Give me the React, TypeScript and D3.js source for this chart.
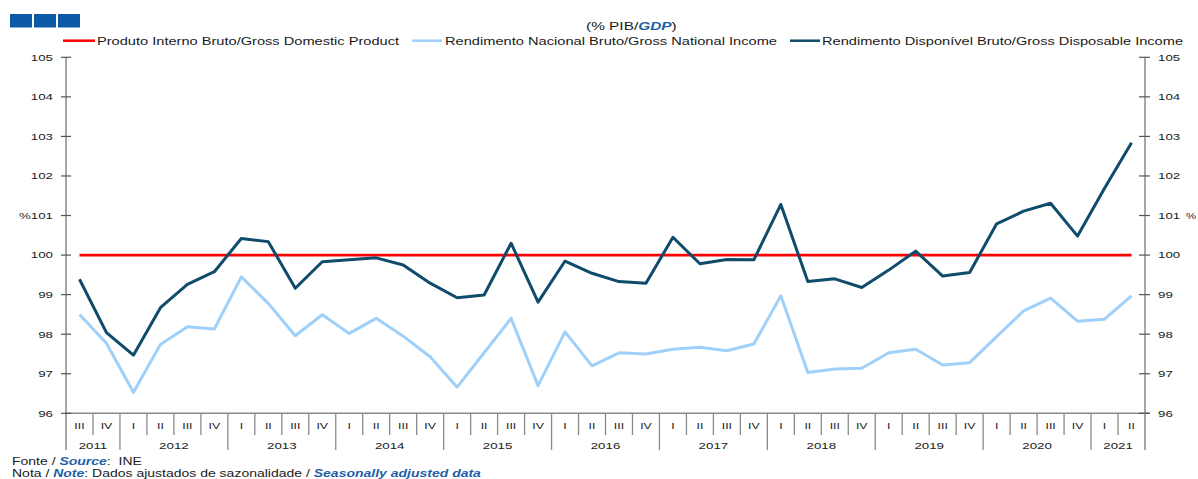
import React from 'react';
import * as d3 from 'd3';

// quarters 2011 Q3 .. 2021 Q2
const quarterLabels = [
  'III', 'IV',
  'I', 'II', 'III', 'IV',
  'I', 'II', 'III', 'IV',
  'I', 'II', 'III', 'IV',
  'I', 'II', 'III', 'IV',
  'I', 'II', 'III', 'IV',
  'I', 'II', 'III', 'IV',
  'I', 'II', 'III', 'IV',
  'I', 'II', 'III', 'IV',
  'I', 'II', 'III', 'IV',
  'I', 'II',
];
const years = ['2011', '2012', '2013', '2014', '2015', '2016', '2017', '2018', '2019', '2020', '2021'];
const quartersInYear = [2, 4, 4, 4, 4, 4, 4, 4, 4, 4, 2];
const yTicks = [96, 97, 98, 99, 100, 101, 102, 103, 104, 105];

const gdp = [
  100, 100, 100, 100, 100, 100, 100, 100, 100, 100,
  100, 100, 100, 100, 100, 100, 100, 100, 100, 100,
  100, 100, 100, 100, 100, 100, 100, 100, 100, 100,
  100, 100, 100, 100, 100, 100, 100, 100, 100, 100,
];
const national = [
  98.5, 97.77, 96.53, 97.74, 98.19, 98.13, 99.45, 98.78, 97.96, 98.49,
  98.02, 98.4, 97.95, 97.43, 96.66, 97.53, 98.4, 96.7, 98.06, 97.2,
  97.53, 97.5, 97.62, 97.67, 97.58, 97.75, 98.97, 97.03, 97.12, 97.14,
  97.53, 97.62, 97.22, 97.28, 97.94, 98.59, 98.91, 98.33, 98.38, 98.97,
];
const disposable = [
  99.39, 98.04, 97.47, 98.67, 99.26, 99.58, 100.42, 100.34, 99.16, 99.83,
  99.88, 99.93, 99.75, 99.29, 98.92, 98.99, 100.3, 98.81, 99.85, 99.54,
  99.33, 99.29, 100.45, 99.78, 99.89, 99.88, 101.28, 99.33, 99.4, 99.18,
  99.62, 100.1, 99.47, 99.56, 100.79, 101.11, 101.31, 100.48, 101.69, 102.84,
];

const seriesNames = [
  'Produto Interno Bruto/Gross Domestic Product',
  'Rendimento Nacional Bruto/Gross National Income',
  'Rendimento Disponível Bruto/Gross Disposable Income',
];

const W = 1198;
const H = 479;
const font = '"Liberation Sans", Arial, sans-serif';
const blue = '#1d5fa8';
const ink = '#1a1a1a';
const colors = ['#ff0000', '#9fd0fa', '#0f4b6b'];

// horizontally stretched text, like the original export
function T({ x, y, size = 9.5, sx = 1.4, anchor = 'start', fill = ink, children }: any) {
  return (
    <g transform={`translate(${x},${y}) scale(${sx},1)`}>
      <text fontSize={size} textAnchor={anchor} fill={fill} fontFamily={font} style={{ whiteSpace: 'pre' }}>
        {children}
      </text>
    </g>
  );
}

export default function App() {
  const left = 66;
  const right = 1145;
  const top = 57.3;
  const bottom = 413.3;

  const idx = d3.range(quarterLabels.length);
  const x = d3.scaleBand<number>().domain(idx).range([left, right]);
  const cx = (i: number) => (x(i) as number) + x.bandwidth() / 2;
  const y = d3.scaleLinear().domain([96, 105]).range([bottom, top]);

  const line = d3.line<number>().x((_, i) => cx(i)).y(d => y(d));

  const yearEnds = Array.from(d3.cumsum(quartersInYear));
  const yearStarts = [0, ...yearEnds.slice(0, -1)];

  const legendPos = [
    { x1: 63, x2: 95, tx: 97, len: 302 },
    { x1: 412, x2: 442, tx: 445, len: 332 },
    { x1: 790, x2: 820, tx: 822, len: 361 },
  ];

  return (
    <svg width={W} height={H} style={{ position: 'absolute', left: 0, top: 0, background: '#fff' }}>
      {/* logo squares */}
      {[0, 1, 2].map(k => (
        <rect key={k} x={10 + k * 24} y={14} width={22} height={13.5} fill="#0b5aa6" />
      ))}

      {/* title */}
      <T x={586} y={29.5} size={11} sx={1.4}>
        (% PIB/<tspan fill={blue} fontWeight="bold" fontStyle="italic">GDP</tspan>)
      </T>

      {/* legend */}
      {seriesNames.map((name, k) => (
        <g key={name}>
          <line x1={legendPos[k].x1} x2={legendPos[k].x2} y1={40.7} y2={40.7} stroke={colors[k]} strokeWidth={2.5} />
          <text x={legendPos[k].tx} y={44.5} fontSize={11.3} fontFamily={font} fill={ink}
            textLength={legendPos[k].len} lengthAdjust="spacingAndGlyphs">{name}</text>
        </g>
      ))}

      {/* axes */}
      <line x1={left} x2={left} y1={top} y2={450} stroke="#8a8a8a" strokeWidth={1.5} />
      <line x1={right} x2={right} y1={top} y2={450} stroke="#8a8a8a" strokeWidth={1.5} />
      <line x1={left} x2={right + 5} y1={bottom} y2={bottom} stroke="#8a8a8a" strokeWidth={1.5} />
      {yTicks.map(t => (
        <g key={t}>
          <line x1={left - 5} x2={left + 5} y1={y(t)} y2={y(t)} stroke="#555" strokeWidth={1.2} />
          <line x1={right - 6} x2={right + 5} y1={y(t)} y2={y(t)} stroke="#555" strokeWidth={1.2} />
          <T x={53} y={y(t) + 3.4} size={9.5} anchor="end">{t === 101 ? '%101' : String(t)}</T>
          <T x={1158} y={y(t) + 3.4} size={9.5}>{String(t)}</T>
        </g>
      ))}
      <T x={1186} y={y(101) + 3.4} size={9.5} sx={1.2}>%</T>

      {/* quarter separators and labels */}
      {idx.slice(1).map(i => (
        <line key={i} x1={x(i)} x2={x(i)} y1={bottom} y2={yearStarts.includes(i) ? 450 : 435}
          stroke="#8a8a8a" strokeWidth={1.3} />
      ))}
      {quarterLabels.map((q, i) => (
        <T key={i} x={cx(i)} y={429} size={8.8} anchor="middle">{q}</T>
      ))}
      {years.map((yr, k) => (
        <T key={yr} x={(x(yearStarts[k]) as number + (x(yearEnds[k] - 1) as number) + x.bandwidth()) / 2}
          y={448.5} size={9.5} anchor="middle">{yr}</T>
      ))}

      {/* series */}
      {[gdp, national, disposable].map((s, k) => (
        <path key={k} d={line(s) || ''} fill="none" stroke={colors[k]}
          strokeWidth={k === 0 ? 2.6 : 3} strokeLinejoin="round" />
      ))}

      {/* footer */}
      <T x={12} y={465} size={10} sx={1.4}>
        {'Fonte / '}<tspan fill={blue} fontWeight="bold" fontStyle="italic">Source</tspan>{':  INE'}
      </T>
      <T x={12} y={476.5} size={10} sx={1.4}>
        {'Nota / '}<tspan fill={blue} fontWeight="bold" fontStyle="italic">Note</tspan>
        {': Dados ajustados de sazonalidade / '}
        <tspan fill={blue} fontWeight="bold" fontStyle="italic">Seasonally adjusted data</tspan>
      </T>
    </svg>
  );
}
